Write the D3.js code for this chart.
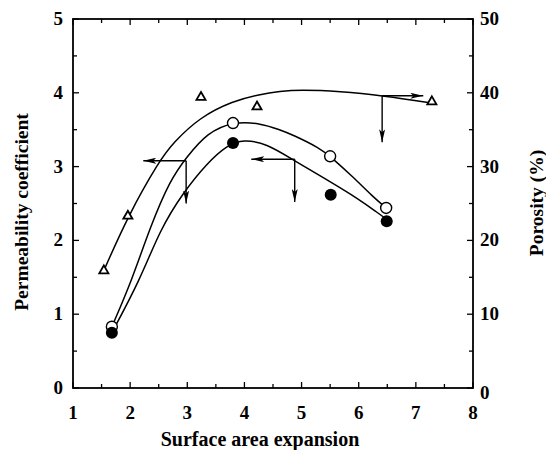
<!DOCTYPE html>
<html>
<head>
<meta charset="utf-8">
<script src="https://cdn.jsdelivr.net/npm/d3@7"></script>
<style>
  body { margin: 0; background: #fff; }
</style>
</head>
<body>
<div id="chart"></div>
<script>
// measured points (x = surface area expansion)
var openCircles = [[1.68, 0.83], [3.80, 3.59], [5.50, 3.14], [6.48, 2.44]];
var filledCircles = [[1.68, 0.75], [3.80, 3.32], [5.51, 2.62], [6.49, 2.26]];
// porosity (%) on the right axis
var triangles = [[1.54, 15.9], [1.96, 23.3], [3.24, 39.4], [4.22, 38.1], [7.28, 38.8]];

// fitted curves
var openCurve = [[1.68, 0.83], [2.03, 1.46], [2.35, 2.18], [2.70, 2.82], [2.99, 3.13], [3.35, 3.46],
	[3.80, 3.61], [4.27, 3.59], [4.62, 3.50], [4.85, 3.43], [5.32, 3.25], [5.50, 3.14],
	[5.90, 2.86], [6.25, 2.59], [6.48, 2.44]];
var filledCurve = [[1.68, 0.75], [2.17, 1.46], [2.52, 2.14], [2.92, 2.64], [3.35, 3.05], [3.70, 3.29],
	[3.98, 3.37], [4.40, 3.31], [4.85, 3.09], [5.45, 2.82], [6.02, 2.55], [6.32, 2.38], [6.50, 2.28]];
var porosityCurve = [[1.54, 15.9], [1.96, 23.3], [2.52, 30.9], [2.75, 33.2], [3.22, 36.7], [3.80, 38.9],
	[4.27, 39.8], [4.62, 40.2], [4.97, 40.4], [5.67, 40.2], [6.43, 39.6], [7.30, 38.6]];

// arrows: [x1, y1, x2, y2] in left-axis units, head at the second point
var arrows = [
	[2.98, 3.08, 2.23, 3.08], [2.98, 3.08, 2.98, 2.50],
	[4.88, 3.10, 4.12, 3.10], [4.88, 3.10, 4.88, 2.52],
	[6.41, 3.96, 7.13, 3.96], [6.41, 3.96, 6.41, 3.33]
];

var xTicks = [1, 2, 3, 4, 5, 6, 7, 8];
var yTicks = [0, 1, 2, 3, 4, 5];
var y2Ticks = [0, 10, 20, 30, 40, 50];

var width = 546, height = 450,
	margin = {top: 19, right: 73, bottom: 62, left: 73};
var w = width - margin.left - margin.right,
	h = height - margin.top - margin.bottom;
var font = "'Liberation Serif', 'Times New Roman', serif";

var svg = d3.select("#chart").append("svg")
	.attr("width", width)
	.attr("height", height)
	.style("font-family", font)
	.style("font-weight", "bold");

var g = svg.append("g")
	.attr("transform", "translate(" + margin.left + "," + margin.top + ")");

var x = d3.scaleLinear().domain([1, 8]).range([0, w]);
var y = d3.scaleLinear().domain([0, 5]).range([h, 0]);
var y2 = d3.scaleLinear().domain([0, 50]).range([h, 0]);

var minorX = d3.range(1.5, 8, 1);
var minorY = d3.range(0.5, 5, 1);
var minorY2 = d3.range(5, 50, 10);

// frame
g.append("rect")
	.attr("width", w).attr("height", h)
	.attr("fill", "none").attr("stroke", "#000").attr("stroke-width", 1.8);

// tick marks pointing inward
var ticks = g.append("g").attr("stroke", "#000").attr("stroke-width", 1.3);
function tickSet(vals, len, side) {
	vals.forEach(function(v) {
		var l = ticks.append("line");
		if (side == "bottom") l.attr("x1", x(v)).attr("x2", x(v)).attr("y1", h).attr("y2", h - len);
		if (side == "top") l.attr("x1", x(v)).attr("x2", x(v)).attr("y1", 0).attr("y2", len);
		if (side == "left") l.attr("x1", 0).attr("x2", len).attr("y1", y(v)).attr("y2", y(v));
		if (side == "right") l.attr("x1", w).attr("x2", w - len).attr("y1", y2(v)).attr("y2", y2(v));
	});
}
tickSet(xTicks, 6, "bottom");
tickSet(minorX, 4, "bottom");
tickSet(xTicks, 6, "top");
tickSet(minorX, 4, "top");
tickSet(yTicks, 6, "left");
tickSet(minorY, 4, "left");
tickSet(y2Ticks, 6, "right");
tickSet(minorY2, 4, "right");

// tick labels
g.selectAll(".xl").data(xTicks).enter().append("text")
	.attr("x", function(d) { return x(d); })
	.attr("y", h + 31)
	.attr("text-anchor", "middle")
	.style("font-size", "19px")
	.text(function(d) { return d; });

g.selectAll(".yl").data(yTicks).enter().append("text")
	.attr("x", -10)
	.attr("y", function(d) { return y(d) + 6; })
	.attr("text-anchor", "end")
	.style("font-size", "19px")
	.text(function(d) { return d; });

g.selectAll(".y2l").data(y2Ticks).enter().append("text")
	.attr("x", w + 7)
	.attr("y", function(d) { return y2(d) + (d == 0 ? 11 : 6); })
	.attr("text-anchor", "start")
	.style("font-size", "19px")
	.text(function(d) { return d; });

// axis titles
svg.append("text")
	.attr("x", 260)
	.attr("y", 446)
	.attr("text-anchor", "middle")
	.style("font-size", "20px")
	.text("Surface area expansion");

svg.append("text")
	.attr("transform", "translate(28," + 212 + ") rotate(-90)")
	.attr("text-anchor", "middle")
	.style("font-size", "19.5px")
	.text("Permeability coefficient");

svg.append("text")
	.attr("transform", "translate(543," + 203 + ") rotate(-90)")
	.attr("text-anchor", "middle")
	.style("font-size", "19.5px")
	.text("Porosity (%)");

// curves
var line = d3.line()
	.x(function(d) { return x(d[0]); })
	.y(function(d) { return y(d[1]); })
	.curve(d3.curveBasis);
var line2 = d3.line()
	.x(function(d) { return x(d[0]); })
	.y(function(d) { return y2(d[1]); })
	.curve(d3.curveBasis);

[openCurve, filledCurve].forEach(function(c) {
	g.append("path").attr("d", line(c))
		.attr("fill", "none").attr("stroke", "#000").attr("stroke-width", 1.5);
});
g.append("path").attr("d", line2(porosityCurve))
	.attr("fill", "none").attr("stroke", "#000").attr("stroke-width", 1.5);

// arrows
svg.append("defs").append("marker")
	.attr("id", "head")
	.attr("viewBox", "0 0 13 6")
	.attr("refX", 13).attr("refY", 3)
	.attr("markerWidth", 13).attr("markerHeight", 6)
	.attr("markerUnits", "userSpaceOnUse")
	.attr("orient", "auto")
	.append("path").attr("d", "M0,0L13,3L0,6L3,3Z").attr("fill", "#000");

g.selectAll(".arrow").data(arrows).enter().append("line")
	.attr("x1", function(d) { return x(d[0]); })
	.attr("y1", function(d) { return y(d[1]); })
	.attr("x2", function(d) { return x(d[2]); })
	.attr("y2", function(d) { return y(d[3]); })
	.attr("stroke", "#000").attr("stroke-width", 1.4)
	.attr("marker-end", "url(#head)");

// markers
g.selectAll(".tri").data(triangles).enter().append("path")
	.attr("transform", function(d) { return "translate(" + x(d[0]) + "," + y2(d[1]) + ")"; })
	.attr("d", d3.symbol().type(d3.symbolTriangle).size(36))
	.attr("fill", "#fff").attr("stroke", "#000").attr("stroke-width", 1.8);

g.selectAll(".oc").data(openCircles).enter().append("circle")
	.attr("cx", function(d) { return x(d[0]); })
	.attr("cy", function(d) { return y(d[1]); })
	.attr("r", 5.5)
	.attr("fill", "#fff").attr("stroke", "#000").attr("stroke-width", 1.4);

g.selectAll(".fc").data(filledCircles).enter().append("circle")
	.attr("cx", function(d) { return x(d[0]); })
	.attr("cy", function(d) { return y(d[1]); })
	.attr("r", 6)
	.attr("fill", "#000");
</script>
</body>
</html>
